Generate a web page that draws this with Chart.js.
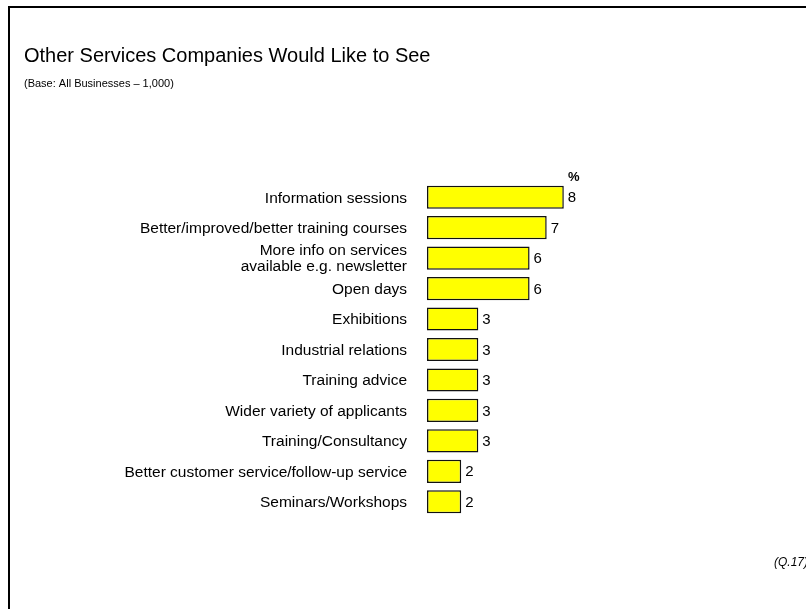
<!DOCTYPE html>
<html>
<head>
<meta charset="utf-8">
<script src="https://cdn.jsdelivr.net/npm/chart.js@4"></script>
<style>
  html, body { margin: 0; padding: 0; background: #fff; }
  #wrap { width: 806px; height: 609px; position: relative; }
</style>
</head>
<body>
<div id="wrap"><canvas id="services-chart" width="806" height="609"></canvas></div>
<script>
var services = [
    "Information sessions",
    "Better/improved/better training courses",
    ["More info on services", "available e.g. newsletter"],
    "Open days",
    "Exhibitions",
    "Industrial relations",
    "Training advice",
    "Wider variety of applicants",
    "Training/Consultancy",
    "Better customer service/follow-up service",
    "Seminars/Workshops"
];
var percents = [8, 7, 6, 6, 3, 3, 3, 3, 3, 2, 2];

var chartTitle = "Other Services Companies Would Like to See";
var chartBase = "(Base: All Businesses \u2013 1,000)";
var questionRef = "(Q.17)";

var FONT = "'Liberation Sans', Arial, Helvetica, sans-serif";

// frame, headings, % marker and bar values
const decorations = {
    id: 'decorations',
    afterDraw(chart) {
        const ctx = chart.ctx;
        ctx.save();

        ctx.strokeStyle = '#000';
        ctx.lineWidth = 2;
        ctx.beginPath();
        ctx.moveTo(9, 620);
        ctx.lineTo(9, 7);
        ctx.lineTo(820, 7);
        ctx.stroke();

        ctx.fillStyle = '#000';
        ctx.textBaseline = 'alphabetic';
        ctx.textAlign = 'left';
        ctx.font = '20px ' + FONT;
        ctx.fillText(chartTitle, 24, 62);
        ctx.font = '11px ' + FONT;
        ctx.fillText(chartBase, 24, 87);

        ctx.font = 'italic 12px ' + FONT;
        ctx.fillText(questionRef, 774, 566);

        const meta = chart.getDatasetMeta(0);
        ctx.font = 'bold 13px ' + FONT;
        ctx.textAlign = 'center';
        ctx.fillText('%', meta.data[0].x + 10, 181);

        ctx.font = '15px ' + FONT;
        ctx.textAlign = 'left';
        ctx.textBaseline = 'middle';
        meta.data.forEach(function (bar, i) {
            ctx.fillText(String(percents[i]), bar.x + 4, bar.y + 1);
        });
        ctx.restore();
    }
};

new Chart(document.getElementById('services-chart'), {
    type: 'bar',
    data: {
        labels: services,
        datasets: [{
            data: percents,
            backgroundColor: '#ffff00',
            borderColor: '#111',
            borderWidth: 1.5,
            borderSkipped: false,
            categoryPercentage: 1,
            barPercentage: 0.76
        }]
    },
    options: {
        indexAxis: 'y',
        responsive: false,
        animation: false,
        layout: {
            padding: { left: 0, right: 208, top: 182, bottom: 92 }
        },
        plugins: {
            legend: { display: false },
            tooltip: { enabled: false }
        },
        scales: {
            x: {
                display: false,
                min: 0,
                max: 10
            },
            y: {
                afterFit: function (scale) { scale.width = 427; },
                border: { display: false },
                grid: { display: false, drawTicks: false },
                ticks: {
                    autoSkip: false,
                    color: '#000',
                    padding: 20,
                    labelOffset: 1,
                    font: { family: FONT, size: 15.5, lineHeight: 1.04 }
                }
            }
        }
    },
    plugins: [decorations]
});
</script>
</body>
</html>
